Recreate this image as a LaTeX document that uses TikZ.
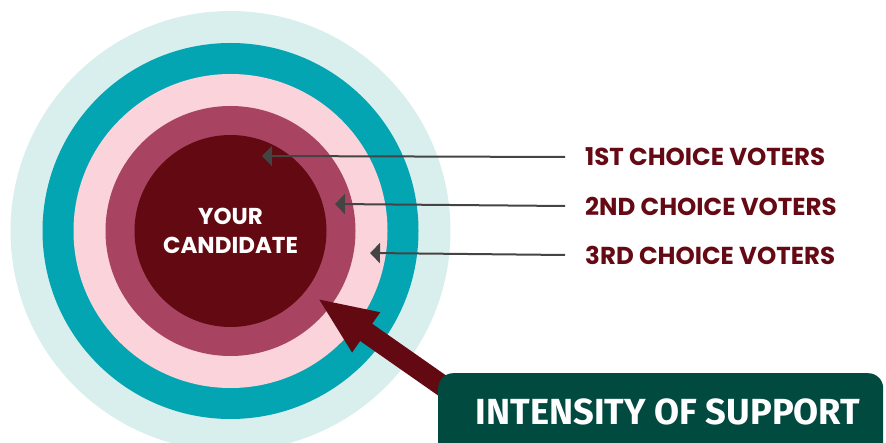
\documentclass[tikz,border=0pt]{standalone}
\usepackage{fontspec}
\setmainfont{Poppins}[BoldFont={Poppins Bold}]
\newfontfamily\firafont{Fira Sans}[BoldFont={Fira Sans Bold}]
\usetikzlibrary{arrows.meta}
\definecolor{ringA}{HTML}{D9EFED}
\definecolor{ringB}{HTML}{04A5B2}
\definecolor{ringC}{HTML}{FAD3DB}
\definecolor{ringD}{HTML}{A84462}
\definecolor{ringE}{HTML}{620911}
\definecolor{boxgreen}{HTML}{004A40}
\definecolor{labred}{HTML}{650A14}
\definecolor{ptrgray}{HTML}{444444}
\tikzset{
  ring/.style={circle, inner sep=0pt, minimum size=#1},
  ptr/.style={draw=ptrgray, line width=2pt, -{Triangle[length=10pt,width=20pt]}},
  lab/.style={anchor=west, inner sep=0pt, text=labred, font=\bfseries\fontsize{24.5}{24.5}\selectfont},
}
\begin{document}
\begin{tikzpicture}[x=1pt,y=-1pt]
\useasboundingbox (0,0) rectangle (886,443);
\clip (0,0) rectangle (886,443);
\node[ring=440pt, fill=ringA] (r5) at (230.5,231) {};
\node[ring=376pt, fill=ringB] (r4) at (230.5,231) {};
\node[ring=314pt, fill=ringC] (r3) at (230.5,231) {};
\node[ring=250pt, fill=ringD] (r2) at (230.5,231) {};
\node[ring=192pt, fill=ringE, text=white, align=center,
  font=\bfseries\fontsize{23}{29}\selectfont] (r1) at (230.5,231) {YOUR\\CANDIDATE};
% labels
\node[lab] (l1) at (585,157) {1ST CHOICE VOTERS};
\node[lab] (l2) at (585,206) {2ND CHOICE VOTERS};
\node[lab] (l3) at (585,255) {3RD CHOICE VOTERS};
\coordinate (t1) at (262,156);
\coordinate (t2) at (335,204);
\coordinate (t3) at (370,253);
\draw[ptr] (l1.west) ++(-20,0) coordinate (s1) -- (t1);
\draw[ptr] (l2.west) ++(-20,0) coordinate (s2) -- (t2);
\draw[ptr] (l3.west) ++(-20,0) coordinate (s3) -- (t3);
% big arrow
\coordinate (tip) at (317,298);
\coordinate (tail) at (470,405);
\draw[ringE, line width=21pt, -{Triangle[length=60pt,width=44pt]}] (tail) -- (tip);
% box
\node[fill=boxgreen, rounded corners=15pt, minimum width=445pt, minimum height=100pt, inner sep=0pt, anchor=north west] (box) at (438,373) {};
\node[inner sep=0pt, text={white}, font=\firafont\bfseries\fontsize{36.3}{36.3}\selectfont] (boxtext) at (668,412) {INTENSITY OF SUPPORT};
\end{tikzpicture}
\end{document}
